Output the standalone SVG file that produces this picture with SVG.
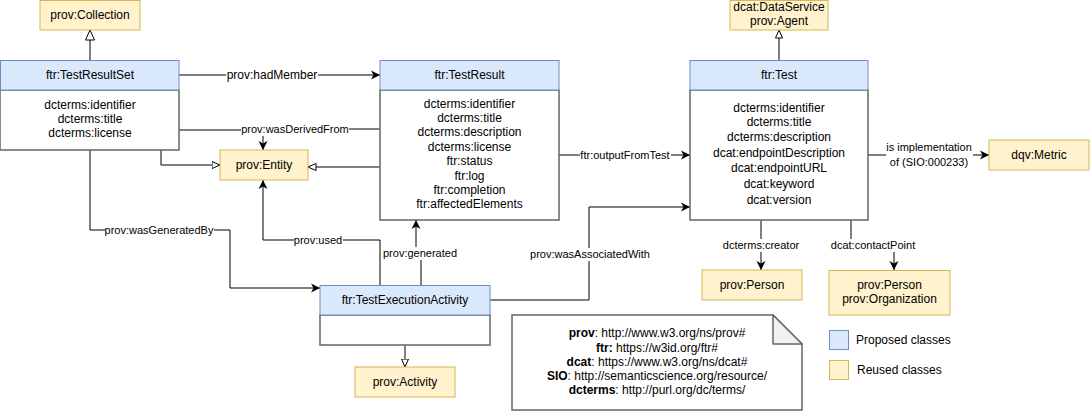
<svg xmlns="http://www.w3.org/2000/svg" width="1092" height="411" viewBox="0 0 1092 411">
<style>
text{font-family:"Liberation Sans",Arial,Helvetica,sans-serif;fill:#000;text-anchor:middle}
.t12{font-size:12px}
.t11{font-size:11px}
.hdr{fill:#dae8fc;stroke:#6c8ebf;stroke-width:1}
.reuse{fill:#fff2cc;stroke:#d6b656;stroke-width:1}
.body{fill:#fff;stroke:#666;stroke-width:1.5}
.edge{fill:none;stroke:#000;stroke-width:1}
.lbl{fill:#fff;stroke:none}
.b{font-weight:bold}
</style>
<defs>
<marker id="arr" markerUnits="userSpaceOnUse" markerWidth="10" markerHeight="10" refX="9" refY="4.5" orient="auto" viewBox="0 0 10 9">
<path d="M0,0 L9,4.5 L0,9 L2.5,4.5 Z" fill="#000"/>
</marker>
<marker id="genL" markerUnits="userSpaceOnUse" markerWidth="12" markerHeight="11" refX="10.5" refY="5" orient="auto" viewBox="0 0 12 10">
<path d="M0.5,0.5 L10.5,5 L0.5,9.5 Z" fill="#fff" stroke="#000" stroke-width="1"/>
</marker>
<marker id="genS" markerUnits="userSpaceOnUse" markerWidth="10" markerHeight="9" refX="8.5" refY="4" orient="auto" viewBox="0 0 10 8">
<path d="M0.5,0.5 L8.5,4 L0.5,7.5 Z" fill="#fff" stroke="#000" stroke-width="1"/>
</marker>
</defs>

<g id="connectors">
<path class="edge" d="M90,60 V30" marker-end="url(#genL)"/>
<path class="edge" d="M179,75 H380" marker-end="url(#arr)"/>
<path class="edge" d="M380,129 H263 V150" marker-end="url(#arr)"/>
<path class="edge" d="M179,130 H263"/>
<path class="edge" d="M161,150 V165 H220" marker-end="url(#genS)"/>
<path class="edge" d="M380,167 H308" marker-end="url(#genS)"/>
<path class="edge" d="M90,150 V230 H230 V288 H320" marker-end="url(#arr)"/>
<path class="edge" d="M380,285 V240 H263 V180" marker-end="url(#arr)"/>
<path class="edge" d="M421,285 V253 H416 V220" marker-end="url(#arr)"/>
<path class="edge" d="M490,300 H589 V207 H690" marker-end="url(#arr)"/>
<path class="edge" d="M559,155 H690" marker-end="url(#arr)"/>
<path class="edge" d="M779,60 V30" marker-end="url(#genS)"/>
<path class="edge" d="M868,155 H989" marker-end="url(#arr)"/>
<path class="edge" d="M761,220 V270" marker-end="url(#arr)"/>
<path class="edge" d="M851,220 V245 H894 V270" marker-end="url(#arr)"/>
<path class="edge" d="M405,345 V367" marker-end="url(#genS)"/>

<rect class="lbl" x="226" y="68" width="92" height="14"/>
<text class="t12" x="272" y="79">prov:hadMember</text>
<rect class="lbl" x="241" y="123" width="108" height="13"/>
<text class="t11" x="295" y="133">prov:wasDerivedFrom</text>
<rect class="lbl" x="105" y="224" width="109" height="13"/>
<text class="t11" x="159" y="234">prov:wasGeneratedBy</text>
<rect class="lbl" x="294" y="234" width="49" height="13"/>
<text class="t11" x="318" y="244">prov:used</text>
<rect class="lbl" x="383" y="247" width="75" height="13"/>
<text class="t11" x="420" y="257">prov:generated</text>
<rect class="lbl" x="527" y="248" width="126" height="13"/>
<text class="t11" x="590" y="258">prov:wasAssociatedWith</text>
<rect class="lbl" x="580" y="149" width="91" height="13"/>
<text class="t11" x="625" y="159">ftr:outputFromTest</text>
<rect class="lbl" x="886" y="140" width="87" height="28"/>
<text class="t11" x="929" y="151">is implementation</text>
<text class="t11" x="929" y="166">of (SIO:000233)</text>
<rect class="lbl" x="723" y="239" width="77" height="13"/>
<text class="t11" x="761" y="249">dcterms:creator</text>
<rect class="lbl" x="831" y="239" width="85" height="13"/>
<text class="t11" x="873" y="249">dcat:contactPoint</text>
</g>

<g id="collection">
<rect class="reuse" x="40" y="0.5" width="100" height="29.5"/>
<text class="t12" x="90" y="19">prov:Collection</text>
</g>

<g id="testresultset">
<rect class="body" x="0" y="90" width="179" height="60"/>
<rect class="hdr" x="0.5" y="60.5" width="178.5" height="29.5"/>
<text class="t12" x="90" y="79">ftr:TestResultSet</text>
<text class="t12" x="90" y="109">dcterms:identifier</text>
<text class="t12" x="90" y="123">dcterms:title</text>
<text class="t12" x="90" y="137">dcterms:license</text>
</g>

<g id="entity">
<rect class="reuse" x="220" y="150" width="88" height="30"/>
<text class="t12" x="264" y="169">prov:Entity</text>
</g>

<g id="testresult">
<rect class="body" x="380" y="90" width="179" height="130"/>
<rect class="hdr" x="380" y="60.5" width="179" height="29.5"/>
<text class="t12" x="469.5" y="79">ftr:TestResult</text>
<text class="t12" x="469.5" y="107.5">dcterms:identifier</text>
<text class="t12" x="469.5" y="122">dcterms:title</text>
<text class="t12" x="469.5" y="136">dcterms:description</text>
<text class="t12" x="469.5" y="150.5">dcterms:license</text>
<text class="t12" x="469.5" y="164.5">ftr:status</text>
<text class="t12" x="469.5" y="179.5">ftr:log</text>
<text class="t12" x="469.5" y="193.5">ftr:completion</text>
<text class="t12" x="469.5" y="208">ftr:affectedElements</text>
</g>

<g id="test">
<rect class="body" x="690" y="90" width="178" height="130"/>
<rect class="hdr" x="690" y="60.5" width="178" height="29.5"/>
<text class="t12" x="779" y="79">ftr:Test</text>
<text class="t12" x="779" y="112">dcterms:identifier</text>
<text class="t12" x="779" y="126">dcterms:title</text>
<text class="t12" x="779" y="141">dcterms:description</text>
<text class="t12" x="779" y="157">dcat:endpointDescription</text>
<text class="t12" x="779" y="172">dcat:endpointURL</text>
<text class="t12" x="779" y="188">dcat:keyword</text>
<text class="t12" x="779" y="204">dcat:version</text>
</g>

<g id="dataservice">
<rect class="reuse" x="730" y="0.5" width="98" height="29.5"/>
<text class="t12" x="779" y="11">dcat:DataService</text>
<text class="t12" x="779" y="25">prov:Agent</text>
</g>

<g id="metric">
<rect class="reuse" x="989" y="140" width="100" height="30"/>
<text class="t12" x="1039" y="159">dqv:Metric</text>
</g>

<g id="person">
<rect class="reuse" x="702" y="270" width="100" height="30"/>
<text class="t12" x="752" y="289">prov:Person</text>
</g>

<g id="personorg">
<rect class="reuse" x="829" y="270.5" width="121" height="44.5"/>
<text class="t12" x="889.5" y="289">prov:Person</text>
<text class="t12" x="889.5" y="303">prov:Organization</text>
</g>

<g id="testexecutionactivity">
<rect class="body" x="320" y="315" width="170" height="30"/>
<rect class="hdr" x="320" y="285.5" width="170" height="29.5"/>
<text class="t12" x="405" y="304">ftr:TestExecutionActivity</text>
</g>

<g id="activity">
<rect class="reuse" x="355" y="367" width="100" height="30"/>
<text class="t12" x="405" y="386">prov:Activity</text>
</g>

<g id="note">
<path d="M512,315 H773 L802,344 V410 H512 Z" fill="#fff" stroke="#666" stroke-width="1.5"/>
<path d="M773,315 V344 H802 Z" fill="#f1f1f1" stroke="#666" stroke-width="1.5" stroke-linejoin="round"/>
<text class="t12" x="657" y="337"><tspan class="b">prov</tspan>: http://www.w3.org/ns/prov#</text>
<text class="t12" x="657" y="351.5"><tspan class="b">ftr:</tspan> https://w3id.org/ftr#</text>
<text class="t12" x="657" y="366"><tspan class="b">dcat</tspan>: https://www.w3.org/ns/dcat#</text>
<text class="t12" x="657" y="380"><tspan class="b">SIO</tspan>: http://semanticscience.org/resource/</text>
<text class="t12" x="657" y="394"><tspan class="b">dcterms</tspan>: http://purl.org/dc/terms/</text>
</g>

<g id="legend">
<rect class="hdr" x="829.5" y="330.5" width="19" height="19"/>
<text class="t12" x="856" y="344" style="text-anchor:start">Proposed classes</text>
<rect class="reuse" x="829.5" y="360.5" width="19" height="19"/>
<text class="t12" x="857" y="374" style="text-anchor:start">Reused classes</text>
</g>
</svg>
